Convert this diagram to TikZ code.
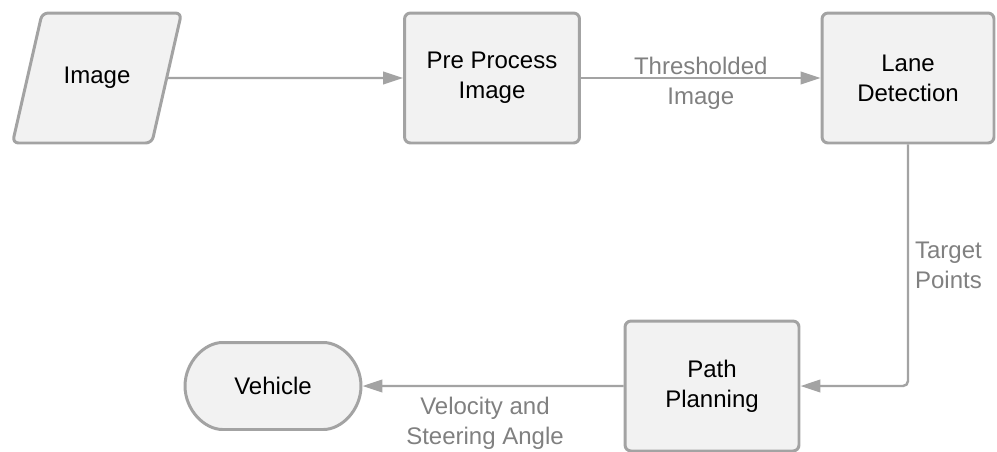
\documentclass[tikz,border=0pt]{standalone}
\usepackage{fontspec}
\setmainfont{Liberation Sans}
\usepackage{xcolor}
\usetikzlibrary{shapes,arrows,positioning,calc,arrows.meta}
\definecolor{boxline}{HTML}{A3A3A3}
\definecolor{boxfill}{HTML}{F2F2F2}
\definecolor{labeltext}{HTML}{808080}

\begin{document}
\begin{tikzpicture}[x=0.02cm, y=-0.02cm,
    font=\fontsize{13.66}{17.1}\selectfont,
    block/.style={draw=boxline, fill=boxfill, line width=1.7pt, rounded corners=0.12cm,
        minimum width=3.5cm, minimum height=2.6cm, align=center, inner sep=0pt},
    para/.style={block, trapezium, trapezium left angle=50, trapezium right angle=130,
        trapezium stretches=true, minimum width=3.4cm},
    term/.style={block, rounded rectangle, minimum width=3.52cm, minimum height=1.74cm},
    flow/.style={draw=boxline, line width=1.4pt, -{Triangle[length=0.4cm, width=0.25cm]}},
    lbl/.style={text=labeltext, align=center}]
    \useasboundingbox (0,0) rectangle (997,451);

    \node[para] (img) at (97,78) {Image};
    \node[block] (prep) at (492,78) {Pre Process\\Image};
    \node[block, minimum width=3.44cm] (lane) at (908,78) {Lane\\Detection};
    \node[block, minimum width=3.48cm] (plan) at (712,386) {Path\\Planning};
    \node[term] (veh) at (273,386) {Vehicle};

    \draw[flow] (img) -- (prep);
    \draw[flow] (prep) -- node[lbl, yshift=-0.1cm] {Thresholded\\Image} (lane);
    \draw[flow, rounded corners=0.1cm] (lane.south) |- node[lbl, pos=0.25, right, align=left] {Target\\Points} (plan.east);
    \draw[flow] (plan) -- node[lbl, below, xshift=-0.16cm, yshift=-0.08cm] {Velocity and\\Steering Angle} (veh);
\end{tikzpicture}
\end{document}
